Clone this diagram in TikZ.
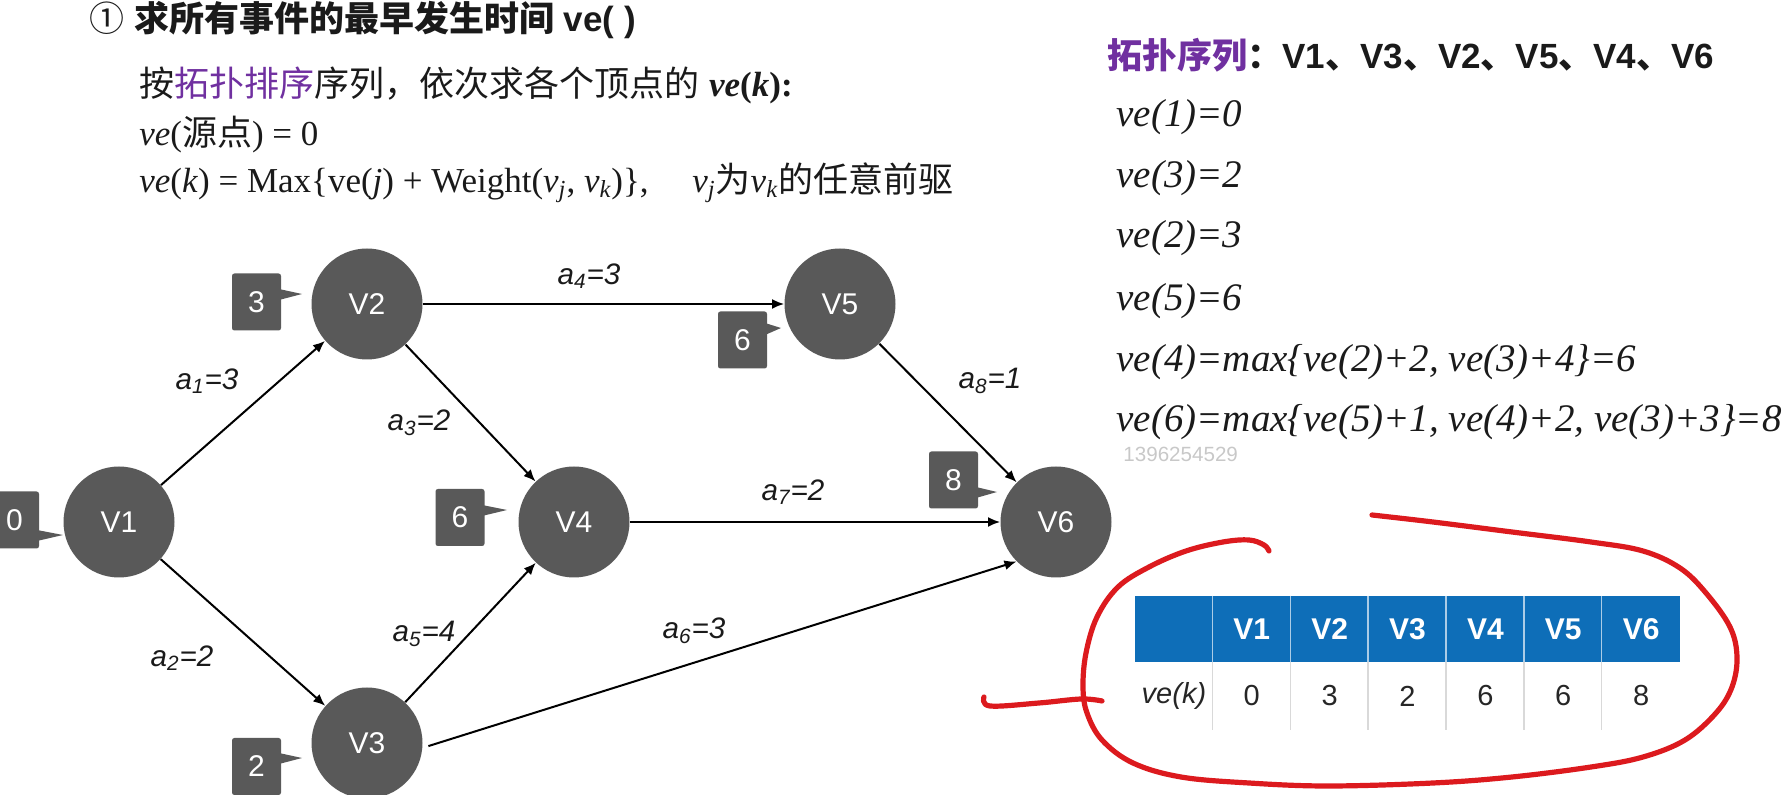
\documentclass[tikz,border=0pt]{standalone}
\usepackage{fontspec}
\usetikzlibrary{arrows.meta}
\setmainfont{Liberation Sans}
\newfontfamily\tms{Liberation Serif}
\newfontfamily\cjk{Noto Sans CJK SC}
\definecolor{nodegray}{HTML}{595959}
\definecolor{purp}{HTML}{7030A0}
\definecolor{tblue}{HTML}{0E6EB8}
\definecolor{redink}{HTML}{DC1A1E}
\definecolor{wm}{HTML}{C8C8C8}
\definecolor{txt}{HTML}{1A1A1A}
\tikzset{
  vtx/.style={circle, fill=nodegray, minimum size=55.5pt, inner sep=0pt, text=white, font=\fontsize{15}{15}\selectfont},
  tag/.style={rectangle, rounded corners=1.2pt, fill=nodegray, minimum width=24.5pt, minimum height=28.5pt, inner sep=0pt, text=white, font=\fontsize{15}{15}\selectfont},
  tail/.style={fill=nodegray},
  edge/.style={-{Latex[length=6pt,width=5pt]}, line width=1pt, black},
  elab/.style={font=\fontsize{14.8}{15}\selectfont\itshape, inner sep=0pt, text=txt},
  txtline/.style={anchor=west, inner sep=0pt, text=txt, font=\fontsize{17.5}{18}\selectfont},
  veline/.style={anchor=west, inner sep=0pt, text=txt, font=\fontsize{19.5}{20}\selectfont\tms\itshape},
  hcell/.style={rectangle, fill=tblue, minimum width=38.93pt, minimum height=33pt, inner sep=0pt, text=white, font=\fontsize{15}{15}\selectfont\bfseries},
  dcell/.style={rectangle, minimum width=38.93pt, minimum height=34pt, inner sep=0pt, text={black!85}, font=\fontsize{14.5}{15}\selectfont},
  ink/.style={redink, line width=2.6pt, line cap=round, line join=round}
}
\begin{document}
\begin{tikzpicture}[x=0.5pt, y=-0.5pt]
\useasboundingbox (0,0) rectangle (1784,795);

% vertices
\node[vtx] (V1) at (119,522) {V1};
\node[vtx] (V2) at (367,304) {V2};
\node[vtx] (V3) at (367,743) {V3};
\node[vtx] (V4) at (574,522) {V4};
\node[vtx] (V5) at (840,304) {V5};
\node[vtx] (V6) at (1056,522) {V6};

% time tags
\node[tag] (T0) at (14.5,520) {0};
\fill[tail] (37,530) -- (63,535) -- (37,541) -- cycle;
\node[tag] (T3) at (256.5,302) {3};
\fill[tail] (279,289) -- (302,294) -- (279,300) -- cycle;
\node[tag] (T2) at (256.5,766.5) {2};
\fill[tail] (279,753) -- (302,758) -- (279,764) -- cycle;
\node[tag] (T6a) at (460,517.5) {6};
\fill[tail] (482,505) -- (507,510) -- (482,516) -- cycle;
\node[tag] (T6b) at (742.5,340) {6};
\fill[tail] (765,323) -- (781,328) -- (765,335) -- cycle;
\node[tag] (T8) at (953.5,480) {8};
\fill[tail] (976,487) -- (997,492) -- (976,498) -- cycle;

% edges
\draw[edge] (V1) -- (V2);
\draw[edge] (V1) -- (V3);
\draw[edge] (V2) -- (V4);
\draw[edge] (V3) -- (V4);
\draw[edge] (V2) -- (V5);
\draw[edge] (V4) -- (V6);
\draw[edge] (V5) -- (V6);
\draw[edge, shorten <=3pt] (V3.-5) -- (V6.225);

% edge labels
\node[elab] (l1) at (207,381) {a\textsubscript{1}=3};
\node[elab] (l2) at (182,658) {a\textsubscript{2}=2};
\node[elab] (l3) at (419,423) {a\textsubscript{3}=2};
\node[elab] (l4) at (589,276) {a\textsubscript{4}=3};
\node[elab] (l5) at (424,634) {a\textsubscript{5}=4};
\node[elab] (l6) at (694,631) {a\textsubscript{6}=3};
\node[elab] (l7) at (793,492) {a\textsubscript{7}=2};
\node[elab] (l8) at (990,381) {a\textsubscript{8}=1};

% top-left text
\node[txtline] (title) at (89,20) {{\cjk ①} {\cjk\bfseries 求所有事件的最早发生时间} {\bfseries ve( )}};
\node[txtline] (rule1) at (139,85) {{\cjk 按\textcolor{purp}{拓扑排序}序列，依次求各个顶点的} {\tms\bfseries\itshape ve\textup{(}k\textup{):}}};
\node[txtline] (rule2) at (139,135) {{\tms\itshape ve}{\tms(}{\cjk 源点}{\tms) = 0}};
\node[txtline] (rule3) at (139,183) {{\tms\itshape ve}{\tms(\textit{k}) = Max\{ve(\textit{j}) + Weight(\textit{v}\textsubscript{\itshape j}, \textit{v}\textsubscript{\itshape k})\},\quad\ \textit{v}\textsubscript{\itshape j}}{\cjk 为}{\tms\itshape v\textsubscript{k}}{\cjk 的任意前驱}};

% right text
\node[txtline] (topo) at (1107,55) {{\cjk\bfseries\textcolor{purp}{拓扑序列}：}{\bfseries V1}{\cjk\bfseries 、}{\bfseries V3}{\cjk\bfseries 、}{\bfseries V2}{\cjk\bfseries 、}{\bfseries V5}{\cjk\bfseries 、}{\bfseries V4}{\cjk\bfseries 、}{\bfseries V6}};
\node[veline] (e1) at (1116,117) {ve(1)=0};
\node[veline] (e3) at (1116,178) {ve(3)=2};
\node[veline] (e2) at (1116,238) {ve(2)=3};
\node[veline] (e5) at (1116,301) {ve(5)=6};
\node[veline] (e4) at (1116,362) {ve(4)=max\{ve(2)+2, ve(3)+4\}=6};
\node[veline] (e6) at (1116,422) {ve(6)=max\{ve(5)+1, ve(4)+2, ve(3)+3\}=8};
\node[anchor=west, inner sep=0pt, text=wm, font=\fontsize{10.3}{11}\selectfont] (wmark) at (1123,454) {1396254529};

% table
\foreach \i/\t in {0/, 1/V1, 2/V2, 3/V3, 4/V4, 5/V5, 6/V6} {
  \node[hcell] (h\i) at ({1135+77.86*\i+38.93},629) {\t};
}
\foreach \i/\t in {0/{\itshape ve(k)}, 1/0, 2/3, 3/2, 4/6, 5/6, 6/8} {
  \node[dcell] (d\i) at ({1135+77.86*\i+38.93},696) {\t};
}
\foreach \i in {1,...,6} {
  \draw[white!65!tblue, line width=0.7pt] (h\i.north west) -- (h\i.south west);
  \draw[black!15, line width=0.7pt] (d\i.north west) -- (d\i.south west);
}

% red hand-drawn loop
\draw[ink] plot[smooth, tension=0.6] coordinates {(1372,515) (1433,522) (1512,532) (1591,542) (1643,551) (1680,568) (1706,593) (1730,627) (1737,657) (1732,687) (1716,713) (1685,740) (1643,757) (1591,767) (1512,777) (1433,783) (1328,786) (1249,783) (1181,777) (1133,763) (1102,740) (1087,713) (1083,687) (1086,653) (1097,617) (1118,587) (1149,567) (1186,551) (1223,542) (1249,540) (1264,545) (1269,551)};
\draw[ink] plot[smooth, tension=0.6] coordinates {(984,697) (990,706) (1039,703) (1081,699) (1102,701)};
\end{tikzpicture}
\end{document}
